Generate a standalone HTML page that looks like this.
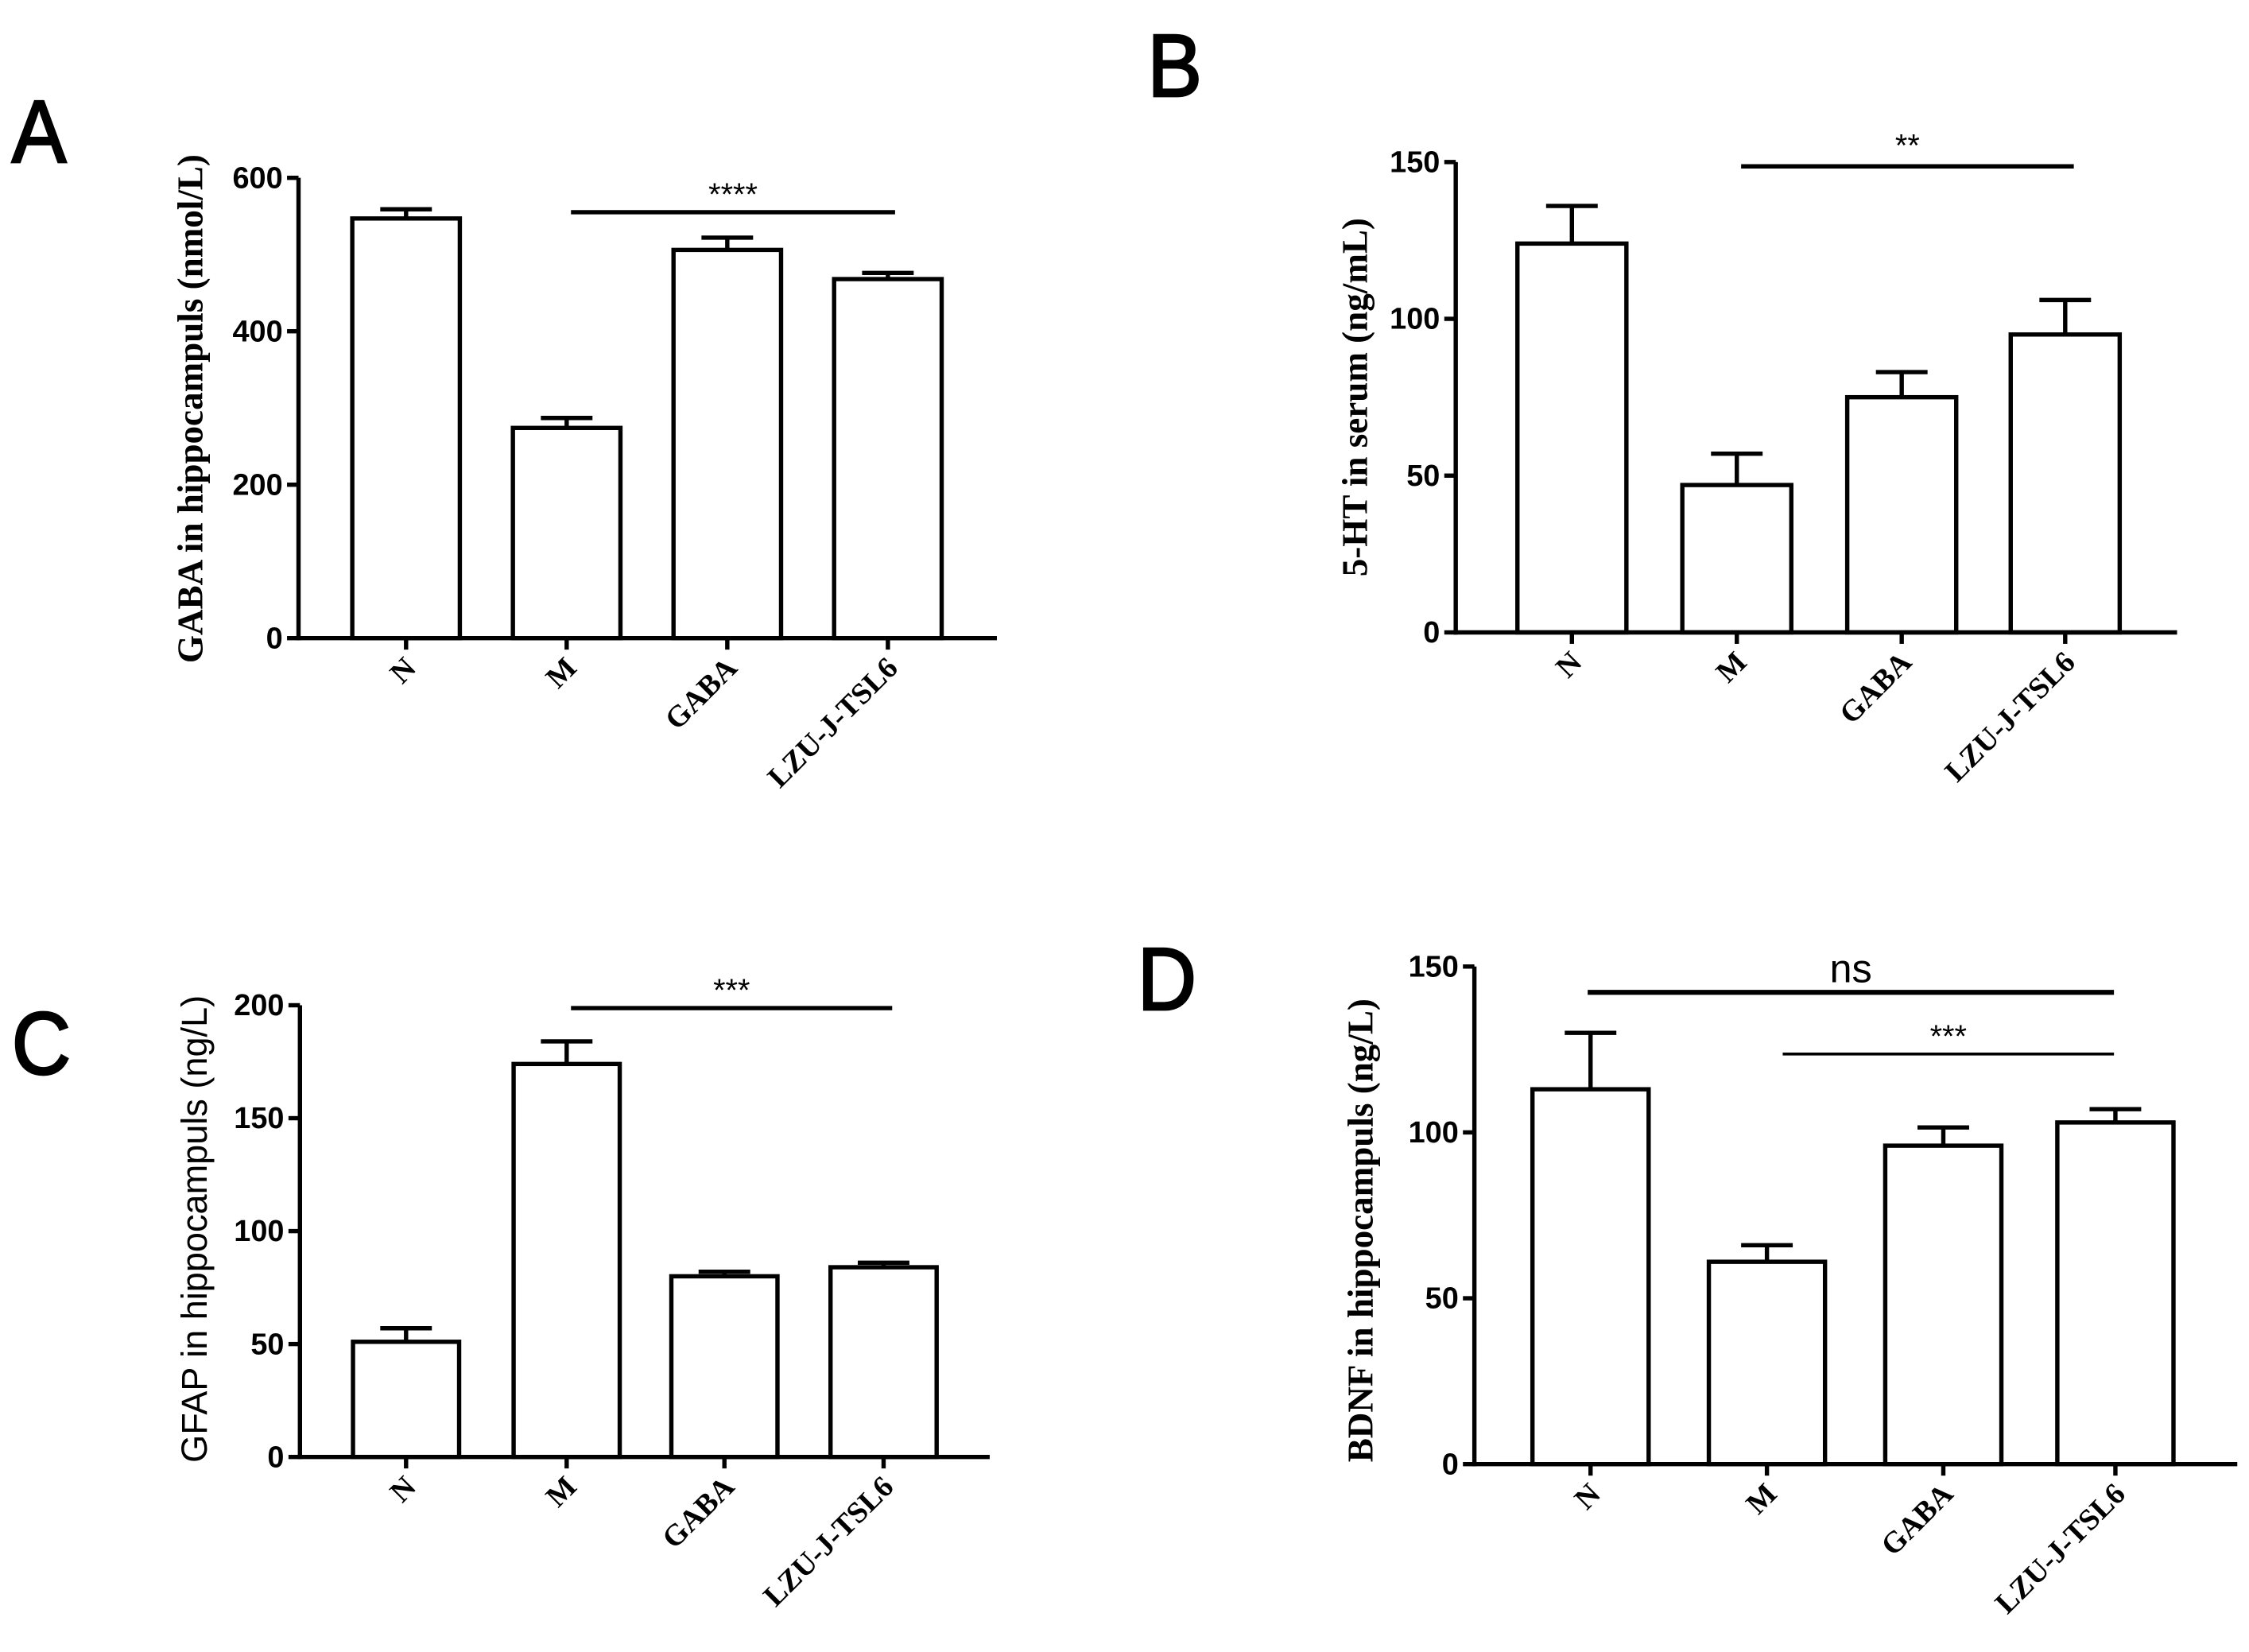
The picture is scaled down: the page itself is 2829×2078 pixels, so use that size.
<!DOCTYPE html>
<html><head><meta charset="utf-8"><style>
html,body{margin:0;padding:0;background:#fff;}
svg{display:block;}
</style></head><body>
<svg id="fig" width="2829" height="2078" viewBox="0 0 1568 1152" xmlns="http://www.w3.org/2000/svg"></svg>
<script>
const categories = ["N", "M", "GABA", "LZU-J-TSL6"];
const valuesA = [547, 274, 506, 468];
const errorsA = [12, 13, 16, 8];
const ticksA = [0, 200, 400, 600];
const valuesB = [124, 47, 75, 95];
const errorsB = [12, 10, 8, 11];
const ticksB = [0, 50, 100, 150];
const valuesC = [51, 174, 80, 84];
const errorsC = [6, 10, 2, 2];
const ticksC = [0, 50, 100, 150, 200];
const valuesD = [113, 61, 96, 103];
const errorsD = [17, 5, 5.5, 4];
const ticksD = [0, 50, 100, 150];

const NS = "http://www.w3.org/2000/svg";
const svg = document.getElementById("fig");
function mk(tag, attrs, parent, text) {
  const e = document.createElementNS(NS, tag);
  for (const k in attrs) e.setAttribute(k, attrs[k]);
  if (text !== undefined) e.textContent = text;
  (parent || svg).appendChild(e);
  return e;
}
const SERIF = '"Liberation Serif", serif';
const SANS = '"Liberation Sans", sans-serif';

function panel(cfg) {
  const g = mk("g", {});
  
  
  const ymax = cfg.ticks[cfg.ticks.length - 1];
  const y = v => cfg.y0 - (v / ymax) * (cfg.y0 - cfg.yTop);
  const L = mk("text", {x: cfg.lx, y: cfg.ly, "font-family": SANS, "font-size": 62, stroke: "#000", "stroke-width": 1.5, transform: `translate(${cfg.lx} 0) scale(0.92 1) translate(${-cfg.lx} 0)`}, g, cfg.letter);
  
  
  categories.forEach((c, i) => {
    const cx = cfg.centers[i];
    const v = cfg.values[i], e = cfg.errors[i];
    const ln = mk("line", {x1: cx, x2: cx, y1: y(v), y2: y(v + e), stroke: "#000", "stroke-width": 3}, g);
    
    
    const cap = mk("line", {x1: cx - cfg.cap, x2: cx + cfg.cap, y1: y(v + e), y2: y(v + e), stroke: "#000", "stroke-width": 3}, g);
    
    
    const r = mk("rect", {x: cx - cfg.bw / 2, y: y(v), width: cfg.bw, height: cfg.y0 - y(v), fill: "#fff", stroke: "#000", "stroke-width": 3}, g);
    
    
    const tk = mk("line", {x1: cx, x2: cx, y1: cfg.y0, y2: cfg.y0 + 8, stroke: "#000", "stroke-width": 3}, g);
    
    
    const tx = cx + 8, ty = cfg.y0 + 22;
    const t = mk("text", {x: tx, y: ty, "text-anchor": "end", "font-family": SERIF, "font-weight": "bold", "font-size": 21, transform: `rotate(-45 ${tx} ${ty})`}, g, c);
    
    
  });
  const ya = mk("line", {x1: cfg.ax, x2: cfg.ax, y1: cfg.yTop, y2: cfg.y0 + 1.5, stroke: "#000", "stroke-width": 3}, g);
  
  
  const xa = mk("line", {x1: cfg.ax - 1.5, x2: cfg.xEnd, y1: cfg.y0, y2: cfg.y0, stroke: "#000", "stroke-width": 3}, g);
  
  
  cfg.ticks.forEach(t => {
    const l = mk("line", {x1: cfg.ax - 8, x2: cfg.ax, y1: y(t), y2: y(t), stroke: "#000", "stroke-width": 3}, g);
    
    
    const tt = mk("text", {x: cfg.ax - 11, y: y(t) + 7, "text-anchor": "end", "font-family": SANS, "font-weight": "bold", "font-size": 21}, g, String(t));
    
    
  });
  const yt = mk("text", {x: cfg.tx, y: cfg.ty, "text-anchor": "middle", "font-family": cfg.titleFont, "font-weight": cfg.titleWeight, "font-size": 25, transform: `rotate(-90 ${cfg.tx} ${cfg.ty})`}, g, cfg.title);
  
  
  cfg.sig.forEach(s => {
    const l = mk("line", {x1: s.x1, x2: s.x2, y1: s.y, y2: s.y, stroke: "#000", "stroke-width": s.w}, g);
    
    
    const t = mk("text", {x: (s.x1 + s.x2) / 2, y: s.ty, "text-anchor": "middle", "font-family": SANS, "font-size": s.fs}, g, s.label);
    
    
  });
}

panel({id: "panel-a", letter: "A", lx: 8, ly: 113, values: valuesA, errors: errorsA, ticks: ticksA,
  ax: 208, y0: 445, yTop: 124, xEnd: 695, centers: [283, 395, 507, 619], bw: 75, cap: 18,
  title: "GABA in hippocampuls (nmol/L)", titleFont: SERIF, titleWeight: "bold", tx: 141, ty: 285,
  sig: [{x1: 398, x2: 624, y: 148, w: 3, label: "****", ty: 143, fs: 22}]});
panel({id: "panel-b", letter: "B", lx: 800, ly: 67, values: valuesB, errors: errorsB, ticks: ticksB,
  ax: 1015, y0: 441, yTop: 113, xEnd: 1518, centers: [1096, 1211, 1326, 1440], bw: 76, cap: 18,
  title: "5-HT in serum (ng/mL)", titleFont: SERIF, titleWeight: "bold", tx: 953, ty: 277,
  sig: [{x1: 1214, x2: 1446, y: 116, w: 3, label: "**", ty: 109, fs: 22}]});
panel({id: "panel-c", letter: "C", lx: 8, ly: 749, values: valuesC, errors: errorsC, ticks: ticksC,
  ax: 209, y0: 1016, yTop: 701, xEnd: 690, centers: [283, 395, 505, 616], bw: 74, cap: 18,
  title: "GFAP in hippocampuls (ng/L)", titleFont: SANS, titleWeight: "normal", tx: 144, ty: 857,
  sig: [{x1: 398, x2: 622, y: 703, w: 3, label: "***", ty: 698, fs: 22}]});
panel({id: "panel-d", letter: "D", lx: 793, ly: 704, values: valuesD, errors: errorsD, ticks: ticksD,
  ax: 1028, y0: 1021, yTop: 674, xEnd: 1560, centers: [1109, 1232, 1355, 1475], bw: 81, cap: 18,
  title: "BDNF in hippocampuls (ng/L)", titleFont: SERIF, titleWeight: "bold", tx: 957, ty: 858,
  sig: [{x1: 1107, x2: 1474, y: 692, w: 3.5, label: "ns", ty: 685, fs: 28},
        {x1: 1243, x2: 1474, y: 735, w: 2, label: "***", ty: 730, fs: 22}]});
</script>
</body></html>
